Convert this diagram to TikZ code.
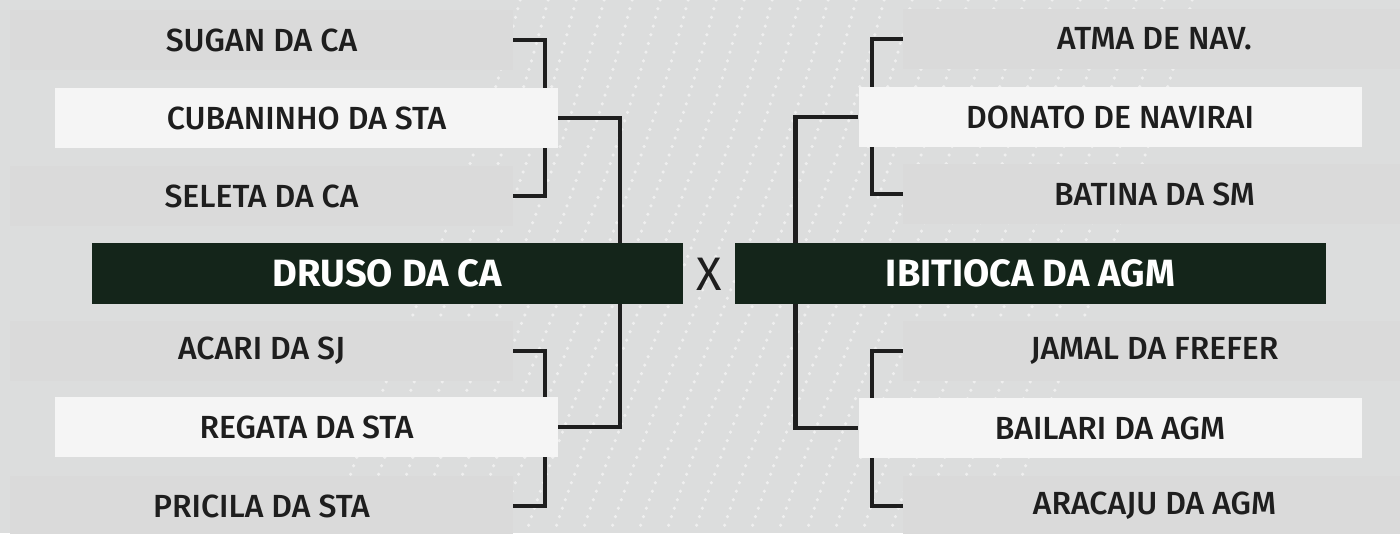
\documentclass[tikz,border=0pt]{standalone}
\usepackage{fontspec}
\setmainfont{Fira Sans}[UprightFont={* Medium},BoldFont={* Bold}]
\newfontfamily\vsfont{Fira Sans}
\usetikzlibrary{calc}
\definecolor{bgc}{HTML}{DCDDDD}
\definecolor{boxg}{HTML}{DADADA}
\definecolor{boxw}{HTML}{F5F5F5}
\definecolor{darkg}{HTML}{14251A}
\definecolor{ink}{HTML}{1E1E1E}
\pgfdeclarelayer{back}
\pgfdeclarelayer{lines}
\pgfsetlayers{back,lines,main}
\tikzset{
  entry/.style={rectangle, inner sep=0pt, minimum width=503pt, minimum height=60pt, text=ink, font=\fontsize{32}{36}\selectfont},
  graybox/.style={entry, fill=boxg},
  whitebox/.style={entry, fill=boxw},
  finalbox/.style={rectangle, inner sep=0pt, minimum width=591pt, minimum height=61pt, fill=darkg, text=white, font=\bfseries\fontsize{38}{42}\selectfont},
  link/.style={draw=ink, line width=4.5pt},
  dotline/.style={white, opacity=0.55, line width=3.5pt, line cap=round, dash pattern=on 0pt off 9pt}
}
\begin{document}
\begin{tikzpicture}[x=1pt,y=-1pt]
\useasboundingbox (0,0) rectangle (1400,533);
\begin{pgfonlayer}{back}
\fill[bgc] (0,0) rectangle (1400,533);
\foreach \i in {0,...,24} {
  \draw[dotline] (520+\i*28,0) .. controls (470+\i*28,200) and (380+\i*28,380) .. (330+\i*28,533);
}
\end{pgfonlayer}
% left column
\node[graybox]  (sugan)   at (261.5,40)  {SUGAN DA CA};
\node[whitebox] (cuban)   at (306.5,118) {CUBANINHO DA STA};
\node[graybox]  (seleta)  at (261.5,196) {SELETA DA CA};
\node[graybox]  (acari)   at (261.5,351) {ACARI DA SJ};
\node[whitebox] (regata)  at (306.5,427) {REGATA DA STA};
\node[graybox]  (pricila) at (261.5,506) {PRICILA DA STA};
\node[finalbox] (druso)   at (387.5,273.5) {DRUSO DA CA};
% right column
\node[graybox]  (atma)    at (1154.5,39)  {ATMA DE NAV.};
\node[whitebox] (donato)  at (1110,117)   {DONATO DE NAVIRAI};
\node[graybox]  (batina)  at (1154.5,194) {BATINA DA SM};
\node[graybox]  (jamal)   at (1154.5,351) {JAMAL DA FREFER};
\node[whitebox] (bailari) at (1110,428)   {BAILARI DA AGM};
\node[graybox]  (aracaju) at (1154.5,506) {ARACAJU DA AGM};
\node[finalbox] (ibit)    at (1030.5,273.5) {IBITIOCA DA AGM};
% versus
\node[text=ink, font=\vsfont\fontsize{47}{50}\selectfont, inner sep=0pt] (vs) at (709,274) {X};
% connectors
\begin{pgfonlayer}{lines}
\draw[link] (sugan.east) -- ++(32,0) |- (seleta.east);
\draw[link] (acari.east) -- ++(32,0) |- (pricila.east);
\draw[link] (cuban.east) -- ++(62,0) |- (regata.east);
\draw[link] (atma.west) -- ++(-31,0) |- (batina.west);
\draw[link] (jamal.west) -- ++(-31,0) |- (aracaju.west);
\draw[link] (donato.west) -- ++(-63,0) |- (bailari.west);
\end{pgfonlayer}
\end{tikzpicture}
\end{document}
